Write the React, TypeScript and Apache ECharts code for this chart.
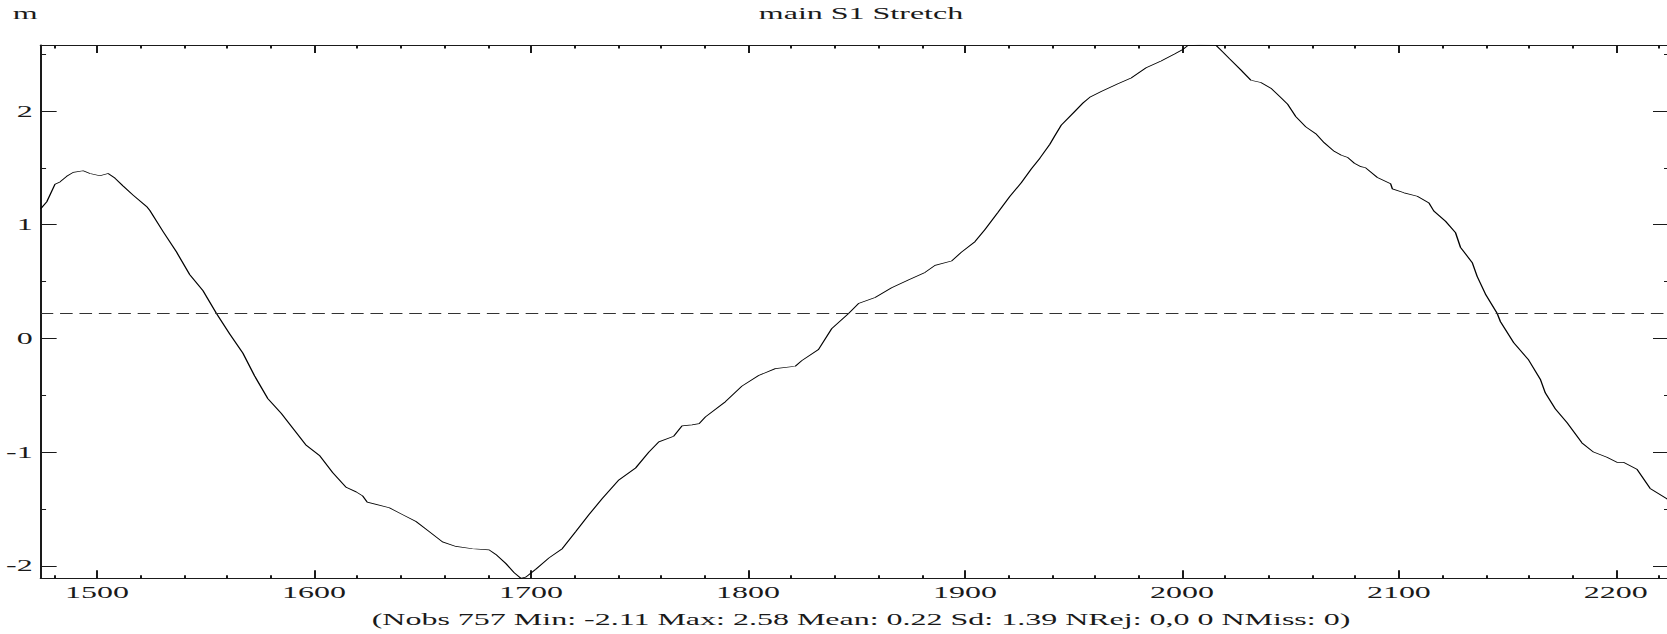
import React, { useEffect, useRef } from "react";
import * as echarts from "echarts";

// ---- data ----
const xValues = [
  1474, 1476.8, 1480.6, 1482.9, 1486.0, 1489.0, 1493.6, 1496.7, 1501.3, 1505.1,
  1508.2, 1512.0, 1516.6, 1522.8, 1524.3, 1530.4, 1536.6, 1542.7, 1548.8, 1555.0,
  1561.1, 1567.2, 1572.6, 1578.7, 1584.9, 1590.2, 1596.4, 1602.5, 1608.6, 1614.8,
  1619.4, 1622.4, 1624.5, 1628.6, 1634.7, 1640.8, 1647.0, 1653.1, 1659.2, 1665.4,
  1673.0, 1680.7, 1683.8, 1688.4, 1692.2, 1695.3, 1697.6, 1702.2, 1708.3, 1714.4,
  1720.6, 1726.7, 1732.8, 1740.5, 1748.2, 1754.3, 1758.9, 1765.8, 1769.6, 1774.2,
  1777.5, 1780.4, 1789.6, 1797.2, 1804.9, 1812.6, 1821.8, 1824.8, 1832.5, 1838.6,
  1846.3, 1850.9, 1858.6, 1866.2, 1873.9, 1881.6, 1886.2, 1893.8, 1898.4, 1904.6,
  1909.2, 1915.3, 1920.7, 1926.0, 1930.6, 1934.5, 1939.1, 1941.4, 1944.4, 1949.8,
  1954.4, 1957.5, 1962.8, 1970.5, 1976.6, 1983.5, 1990.4, 1996.6, 2000.4, 2002.7,
  2008.0, 2015.7, 2018.8, 2021.9, 2027.2, 2031.8, 2036.4, 2041.0, 2044.9, 2048.7,
  2052.5, 2057.1, 2061.7, 2065.6, 2070.2, 2073.5, 2076.5, 2079.5, 2082.5, 2084.7,
  2090.1, 2096.2, 2097.0, 2102.4, 2108.5, 2113.9, 2116.1, 2121.5, 2126.1, 2128.4,
  2133.8, 2136.1, 2139.9, 2145.3, 2146.8, 2152.9, 2159.8, 2165.2, 2167.5, 2172.1,
  2177.5, 2184.4, 2189.7, 2195.9, 2200.5, 2203.5, 2209.7, 2215.8, 2223.5, 2224.5,
];
const yValues = [
  1.14, 1.2, 1.355, 1.376, 1.425, 1.46, 1.474, 1.45, 1.43, 1.45,
  1.41, 1.34, 1.26, 1.16, 1.125, 0.94, 0.76, 0.56, 0.42, 0.22,
  0.04, -0.13, -0.33, -0.53, -0.66, -0.79, -0.94, -1.03, -1.18, -1.31,
  -1.35, -1.385, -1.44, -1.46, -1.49, -1.55, -1.61, -1.7, -1.79, -1.83,
  -1.85, -1.86, -1.9, -1.98, -2.06, -2.11, -2.1, -2.03, -1.93, -1.85,
  -1.7, -1.55, -1.41, -1.245, -1.14, -1.0, -0.91, -0.86, -0.77, -0.76,
  -0.75, -0.69, -0.557, -0.42, -0.327, -0.266, -0.245, -0.196, -0.098, 0.086,
  0.217, 0.306, 0.36, 0.446, 0.514, 0.58, 0.642, 0.68, 0.758, 0.85,
  0.957, 1.11, 1.248, 1.37, 1.49, 1.584, 1.706, 1.78, 1.875, 1.98,
  2.07, 2.12, 2.17, 2.24, 2.29, 2.38, 2.44, 2.5, 2.54, 2.575,
  2.58, 2.578, 2.52, 2.46, 2.36, 2.27, 2.25, 2.2, 2.13, 2.06,
  1.95, 1.86, 1.8, 1.72, 1.645, 1.61, 1.59, 1.54, 1.51, 1.5,
  1.415, 1.36, 1.315, 1.28, 1.25, 1.19, 1.12, 1.03, 0.93, 0.8,
  0.667, 0.544, 0.39, 0.22, 0.147, -0.037, -0.19, -0.36, -0.48, -0.62,
  -0.74, -0.92, -1.0, -1.046, -1.09, -1.09, -1.15, -1.32, -1.41, -1.43,
];
const meanValue = 0.22;

const xMin = 1474;
const xMax = 2224.5;
const yMin = -2.11;
const yMax = 2.58;

const xMajorTicks = [1500, 1600, 1700, 1800, 1900, 2000, 2100, 2200];
const xMinorTicks = [
  1480, 1520, 1540, 1560, 1580, 1620, 1640, 1660, 1680, 1720, 1740, 1760, 1780,
  1820, 1840, 1860, 1880, 1920, 1940, 1960, 1980, 2020, 2040, 2060, 2080, 2120,
  2140, 2160, 2180, 2220,
];
const yMajorTicks = [-2, -1, 0, 1, 2];
const yMinorTicks = [-1.5, -0.5, 0.5, 1.5, 2.5];

const titleText = "main S1 Stretch";
const unitText = "m";
const footerText =
  "(Nobs 757 Min: -2.11 Max: 2.58 Mean: 0.22 Sd: 1.39 NRej: 0,0 0 NMiss: 0)";

// ---- styling ----
const FONT = "'Liberation Serif', 'Times New Roman', Times, serif";
const INK = "#1a1a1a";
const STRETCH = 2; // the reference is drawn stretched horizontally

function axis(extra: any) {
  return {
    type: "value",
    splitLine: { show: false },
    axisLine: { show: false, onZero: false },
    axisLabel: { show: false },
    axisTick: { show: false },
    ...extra,
  };
}

function tick(values: number[], length: number) {
  return {
    show: true,
    inside: true,
    length,
    customValues: values,
    lineStyle: { color: INK, width: 1 },
  };
}

const line = { show: true, onZero: false, lineStyle: { color: INK, width: 1 } };

export default function App() {
  const ref = useRef<HTMLDivElement>(null);

  useEffect(() => {
    if (!ref.current) return;
    const chart = echarts.init(ref.current, undefined, { renderer: "svg" });
    const xr = { min: xMin, max: xMax };
    const yr = { min: yMin, max: yMax };
    chart.setOption({
      animation: false,
      backgroundColor: "#fff",
      grid: { left: 18.65, top: 45, width: 815.85, height: 533.3, containLabel: false },
      xAxis: [
        axis({
          ...xr,
          position: "bottom",
          axisLine: line,
          axisTick: tick(xMajorTicks, 8),
          axisLabel: {
            show: true,
            customValues: xMajorTicks,
            formatter: (v: number) => String(v),
            margin: 6,
            fontSize: 16,
            fontFamily: FONT,
            color: INK,
          },
        }),
        axis({ ...xr, position: "bottom", axisTick: tick(xMinorTicks, 3) }),
        axis({ ...xr, position: "top", axisLine: line, axisTick: tick(xMajorTicks, 8) }),
        axis({ ...xr, position: "top", axisTick: tick(xMinorTicks, 3.5) }),
      ],
      yAxis: [
        axis({
          ...yr,
          position: "left",
          axisLine: line,
          axisTick: tick(yMajorTicks, 8),
          axisLabel: {
            show: true,
            customValues: yMajorTicks,
            formatter: (v: number) => String(v),
            margin: 4,
            fontSize: 16,
            fontFamily: FONT,
            color: INK,
          },
        }),
        axis({ ...yr, position: "left", axisTick: tick(yMinorTicks, 2.7) }),
        axis({ ...yr, position: "right", axisLine: line, axisTick: tick(yMajorTicks, 8) }),
        axis({ ...yr, position: "right", axisTick: tick(yMinorTicks, 2.5) }),
      ],
      series: [
        {
          type: "line",
          xAxisIndex: 0,
          yAxisIndex: 0,
          data: xValues.map((x, i) => [x, yValues[i]]),
          symbol: "none",
          showSymbol: false,
          clip: true,
          lineStyle: { color: "#000", width: 0.7 },
          silent: true,
          markLine: {
            silent: true,
            symbol: ["none", "none"],
            label: { show: false },
            lineStyle: { color: "#333", width: 1, type: [6.3, 3.4] },
            data: [{ yAxis: meanValue }],
          },
        },
      ],
      graphic: [
        {
          type: "text",
          x: 430.5,
          y: 13.8,
          style: {
            text: titleText,
            fontSize: 16,
            fontFamily: FONT,
            fill: INK,
            align: "center",
            verticalAlign: "middle",
            textAlign: "center",
            textVerticalAlign: "middle",
          },
        },
        {
          type: "text",
          x: 6.4,
          y: 13.8,
          style: {
            text: unitText,
            fontSize: 16,
            fontFamily: FONT,
            fill: INK,
            align: "left",
            verticalAlign: "middle",
            textAlign: "left",
            textVerticalAlign: "middle",
          },
        },
        {
          type: "text",
          x: 430.5,
          y: 619.6,
          style: {
            text: footerText,
            fontSize: 16,
            fontFamily: FONT,
            fill: INK,
            align: "center",
            verticalAlign: "middle",
            textAlign: "center",
            textVerticalAlign: "middle",
          },
        },
      ],
    });
    return () => chart.dispose();
  }, []);

  return (
    <div
      style={{
        position: "absolute",
        left: 0,
        top: 0,
        width: 1667,
        height: 634,
        overflow: "hidden",
        background: "#fff",
      }}
    >
      <div
        ref={ref}
        style={{
          width: 840,
          height: 634,
          transform: `scaleX(${STRETCH})`,
          transformOrigin: "0 0",
        }}
      />
    </div>
  );
}
